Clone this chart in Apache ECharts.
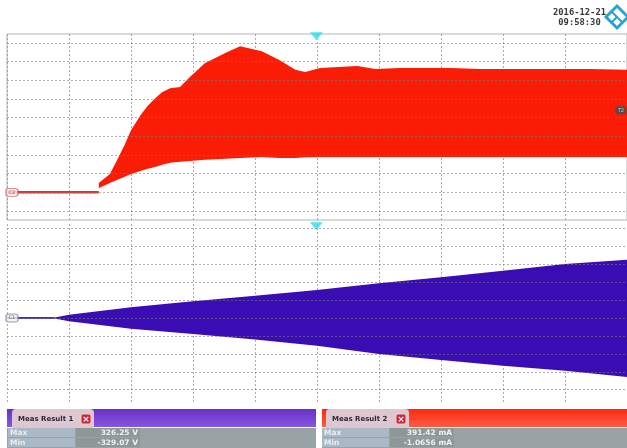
<!DOCTYPE html>
<html><head><meta charset="utf-8">
<style>html,body{margin:0;padding:0;background:#fff}#c{width:627px;height:448px}</style>
<script src="https://cdn.jsdelivr.net/npm/echarts@6/dist/echarts.min.js"></script>
</head><body><div id="c"></div>
<script>
// Time in horizontal divisions
const currentTimes = [1.48,1.5,1.66,1.78,1.9,2.0,2.15,2.27,2.39,2.5,2.63,2.79,2.95,3.19,3.52,3.76,4.11,4.4,4.65,4.81,5.05,5.65,5.94,6.34,7.15,7.63,8.27,8.92,9.4,10];
const currentUpper = [25,30,49,88,128,166,206,232,252,268,279,282,309,346,373,391,378,354,328,322,333,338,330,333,333,330,330,330,330,328];
const currentLower = [12,13,25,34,42,49,57,63,68,74,79,82,84,87,90,92,95,92,92,94,95,95,95,95,95,95,95,95,95,95];
const currentIdleTimes = [0,1.48];
const currentIdle = [0,0];
const currentLevels = [-50,0,50,100,150,200,250,300,350,400];

const voltageTimes = [0.77,1,2,3,4,5,6,7,8,9,10];
const voltageUpper = [3,18,60,93,125,157,194,227,264,302,326];
const voltageLower = [-3,-18,-60,-89,-120,-155,-201,-235,-267,-295,-329];
const voltageIdleTimes = [0,0.77];
const voltageIdle = [0,0];
const voltageLevels = [-400,-300,-200,-100,0,100,200,300,400,500];

const dateLines = ['2016-12-21','09:58:30'];
const meas1 = {title:'Meas Result 1', rows:[['Max','326.25 V'],['Min','-329.07 V']]};
const meas2 = {title:'Meas Result 2', rows:[['Max','391.42 mA'],['Min','-1.0656 mA']]};

const RED='#fb1c05', BLUE='#3a0cb4', GRID='rgba(150,150,150,0.8)';
const zip=(a,b)=>a.map((x,i)=>[x,b[i]]);
const levelLines=(lv)=>({silent:true,symbol:'none',label:{show:false},animation:false,z:6,
  lineStyle:{color:'rgba(125,125,125,0.6)',width:1,type:[2,2]},
  data:lv.map(v=>({yAxis:v}))});

function measPanel(x0,x1,tabW,barTop,barBot,m,lblW,valW,tabLeft){
  const y0=409,y1=427;
  const els=[
   {type:'rect',shape:{x:x0,y:y0,width:x1-x0,height:y1-y0},style:{fill:new echarts.graphic.LinearGradient(0,0,0,1,[{offset:0,color:barTop},{offset:1,color:barBot}])}},
   {type:'rect',shape:{x:tabLeft,y:y0,width:tabW,height:y1-y0+1,r:[4,4,0,0]},style:{fill:'#ddc7d0'}},
   {type:'text',style:{x:tabLeft+6,y:y0+10,text:m.title,font:'bold 7px "DejaVu Sans"',fill:'#2a2a38',verticalAlign:'middle'}},
   {type:'rect',shape:{x:tabLeft+tabW-13,y:y0+5,width:10,height:10,r:2},style:{fill:'#c8283c',stroke:'#f3c9c9'}},
   {type:'text',style:{x:tabLeft+tabW-8,y:y0+10.5,text:'×',font:'bold 9px "DejaVu Sans"',fill:'#fff',align:'center',verticalAlign:'middle'}},
   {type:'rect',shape:{x:x0,y:428,width:x1-x0,height:20},style:{fill:'#99a3a5'}}
  ];
  m.rows.forEach((r,i)=>{
    const y=428+i*10;
    els.push({type:'rect',shape:{x:tabLeft-4,y:y,width:lblW,height:9},style:{fill:'#abb8c6'}});
    els.push({type:'rect',shape:{x:tabLeft-4+lblW+1,y:y,width:valW,height:9},style:{fill:'#8e9899'}});
    els.push({type:'text',style:{x:tabLeft-2,y:y+5,text:r[0],font:'bold 7.5px "DejaVu Sans"',fill:'#e8edf2',verticalAlign:'middle'}});
    els.push({type:'text',style:{x:tabLeft-4+lblW+valW-1,y:y+5,text:r[1],font:'bold 7.5px "DejaVu Sans"',fill:'#eef2f2',align:'right',verticalAlign:'middle'}});
  });
  return els;
}

const logo=[
 {type:'polygon',shape:{points:[[617,6],[628,17],[617,28],[606,17]]},style:{fill:'#fff',stroke:'#2aa3cf',lineWidth:3}},
 {type:'line',shape:{x1:612,y1:12,x2:622,y2:22},style:{stroke:'#2aa3cf',lineWidth:2}},
 {type:'line',shape:{x1:612,y1:22,x2:617,y2:17},style:{stroke:'#2aa3cf',lineWidth:2}}
];
const header=[
 {type:'text',style:{x:579.5,y:13,text:dateLines[0],font:'bold 8.8px "DejaVu Sans Mono"',fill:'#3a3a3a',align:'center',verticalAlign:'middle'}},
 {type:'text',style:{x:579.5,y:22.5,text:dateLines[1],font:'bold 8.8px "DejaVu Sans Mono"',fill:'#3a3a3a',align:'center',verticalAlign:'middle'}}
];

const marker=(gi,val,txt)=>({type:'scatter',xAxisIndex:gi,yAxisIndex:gi,data:[[0.08,val]],symbol:'roundRect',symbolSize:[12,8],z:10,silent:true,
  itemStyle:{color:'#f2eeee',borderColor:gi?'#7f7fa8':'#d8504a',borderWidth:1},
  label:{show:true,position:'inside',formatter:txt,fontSize:5,color:gi?'#555':'#c33',fontFamily:'DejaVu Sans'}});
const trigger=(gi,top)=>({type:'scatter',xAxisIndex:gi,yAxisIndex:gi,data:[[4.99,top]],symbol:'triangle',symbolRotate:180,symbolSize:[13,8],z:10,silent:true,itemStyle:{color:'#2fdcec'}});

// Value dimension comes first so that the stack acts on the value, not on the time.
const stackDims=[{name:'v',type:'float'},{name:'t',type:'float'}];
const chart=echarts.init(document.getElementById('c'),null,{renderer:'canvas'});
chart.setOption({
 animation:false,backgroundColor:'#fff',
 grid:[
  {left:7,right:0,top:34,height:186,show:true,borderColor:'#b4b4b4',borderWidth:1,backgroundColor:'transparent'},
  {left:7,right:0,top:224,height:180,show:false}
 ],
 xAxis:[0,1].map(i=>({type:'value',gridIndex:i,min:0,max:10,interval:1,axisLine:{show:false},axisTick:{show:false},axisLabel:{show:false},
   splitLine:{show:true,lineStyle:{color:GRID,width:1,type:[2,2]}}})),
 yAxis:[
  {type:'value',gridIndex:0,min:-74,max:424,axisLine:{show:false},axisTick:{show:false},axisLabel:{show:false},splitLine:{show:false}},
  {type:'value',gridIndex:1,min:-480,max:525,axisLine:{show:false},axisTick:{show:false},axisLabel:{show:false},splitLine:{show:false}}
 ],
 series:[
  {type:'line',name:'base',xAxisIndex:0,yAxisIndex:0,stack:'i',symbol:'none',lineStyle:{width:0},
    dimensions:stackDims,encode:{x:'t',y:'v'},data:zip(currentLower,currentTimes),markLine:levelLines(currentLevels)},
  {type:'line',name:'current',xAxisIndex:0,yAxisIndex:0,stack:'i',symbol:'none',lineStyle:{width:0},areaStyle:{color:RED,opacity:1},z:3,
    dimensions:stackDims,encode:{x:'t',y:'v'},data:zip(currentUpper.map((v,i)=>v-currentLower[i]),currentTimes)},
  {type:'line',xAxisIndex:0,yAxisIndex:0,symbol:'none',lineStyle:{color:'#e8301a',width:2.5},data:zip(currentIdleTimes,currentIdle),z:3},
  {type:'line',name:'voltage+',xAxisIndex:1,yAxisIndex:1,symbol:'none',lineStyle:{width:0},areaStyle:{color:BLUE,opacity:1},z:3,data:zip(voltageTimes,voltageUpper),markLine:levelLines(voltageLevels)},
  {type:'line',name:'voltage-',xAxisIndex:1,yAxisIndex:1,symbol:'none',lineStyle:{width:0},areaStyle:{color:BLUE,opacity:1},z:3,data:zip(voltageTimes,voltageLower)},
  {type:'line',xAxisIndex:1,yAxisIndex:1,symbol:'none',lineStyle:{color:'#4a30c0',width:2},data:zip(voltageIdleTimes,voltageIdle),z:3},
  marker(0,0,'C2'),marker(1,0,'C1'),
  trigger(0,418),trigger(1,512),
  {type:'scatter',xAxisIndex:0,yAxisIndex:0,data:[[9.9,220]],symbol:'roundRect',symbolSize:[11,8],z:10,silent:true,itemStyle:{color:'#2f5560'},
   label:{show:true,position:'inside',formatter:'T2',fontSize:5,color:'#bfe'}}
 ],
 graphic:[].concat(header,logo,
   measPanel(7,316,82,'#6a2fc6','#8458e0',meas1,67,64,12),
   measPanel(322,627,83,'#ff2a10','#ff5a44',meas2,67,64,326))
});
</script></body></html>
